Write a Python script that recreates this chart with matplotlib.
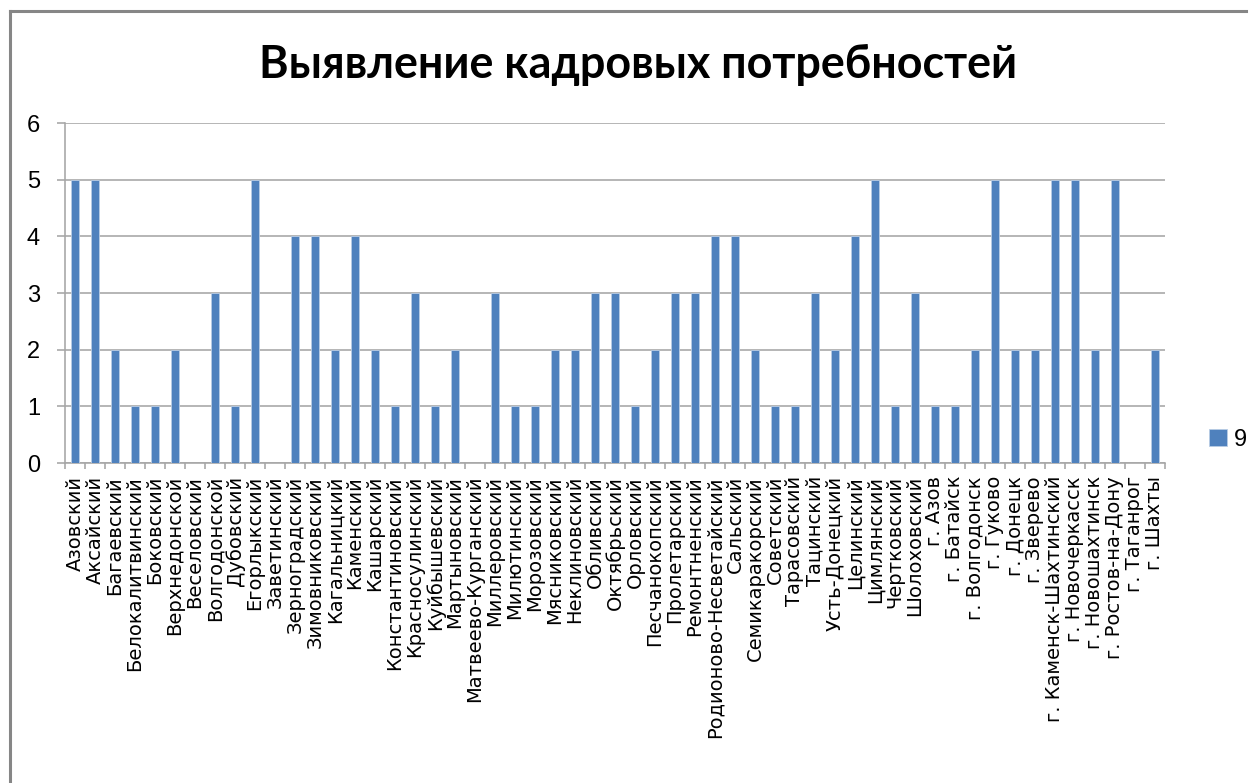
import matplotlib
matplotlib.use("Agg")
import matplotlib.pyplot as plt
from matplotlib.lines import Line2D
from matplotlib.ticker import FixedLocator, MultipleLocator
import numpy as np

categories = [
    "Азовский", "Аксайский", "Багаевский", "Белокалитвинский", "Боковский",
    "Верхнедонской", "Веселовский", "Волгодонской", "Дубовский", "Егорлыкский",
    "Заветинский", "Зерноградский", "Зимовниковский", "Кагальницкий", "Каменский",
    "Кашарский", "Константиновский", "Красносулинский", "Куйбышевский", "Мартыновский",
    "Матвеево-Курганский", "Миллеровский", "Милютинский", "Морозовский", "Мясниковский",
    "Неклиновский", "Обливский", "Октябрьский", "Орловский", "Песчанокопский",
    "Пролетарский", "Ремонтненский", "Родионово-Несветайский", "Сальский", "Семикаракорский",
    "Советский", "Тарасовский", "Тацинский", "Усть-Донецкий", "Целинский",
    "Цимлянский", "Чертковский", "Шолоховский", "г. Азов", "г. Батайск",
    "г. Волгодонск", "г. Гуково", "г. Донецк", "г. Зверево", "г. Каменск-Шахтинский",
    "г. Новочеркасск", "г. Новошахтинск", "г. Ростов-на-Дону", "г. Таганрог", "г. Шахты",
]
values = [
    5, 5, 2, 1, 1,
    2, 0, 3, 1, 5,
    0, 4, 4, 2, 4,
    2, 1, 3, 1, 2,
    0, 3, 1, 1, 2,
    2, 3, 3, 1, 2,
    3, 3, 4, 4, 2,
    1, 1, 3, 2, 4,
    5, 1, 3, 1, 1,
    2, 5, 2, 2, 5,
    5, 2, 5, 0, 2,
]
series_name = "9"
title = "Выявление кадровых потребностей"

BAR = "#4f81bd"
GRID = "#a6a6a6"
W, H = 1258, 783
PX = 72 / 100  # points per pixel at 100 dpi

fig = plt.figure(figsize=(W / 100, H / 100), dpi=100)
fig.patch.set_facecolor("white")

# chart frame
fig.add_artist(Line2D([9.5 / W, 9.5 / W], [0, 1 - 11 / H], transform=fig.transFigure,
                      color="#868686", lw=2.2))
fig.add_artist(Line2D([9.5 / W, 1246 / W], [1 - 11 / H, 1 - 11 / H], transform=fig.transFigure,
                      color="#868686", lw=2.2))

left, right, top, bottom = 65, 1165, 123, 463
ax = fig.add_axes([left / W, 1 - bottom / H, (right - left) / W, (bottom - top) / H])

x = np.arange(len(categories))
bars = ax.bar(x, values, width=0.38, color=BAR, edgecolor="#b9cde5", linewidth=0.6,
              label=series_name, zorder=3)

ax.set_xlim(-0.5, len(categories) - 0.5)
ax.set_ylim(0, 6)
ax.yaxis.set_major_locator(MultipleLocator(1))
ax.grid(axis="y", color=GRID, lw=1.6 * PX, zorder=0)

for s in ("top", "right"):
    ax.spines[s].set_visible(False)
for s in ("left", "bottom"):
    ax.spines[s].set_color(GRID)
    ax.spines[s].set_linewidth(1.6 * PX)

ax.set_xticks(x)
ax.set_xticklabels(categories, rotation=90, fontfamily="DejaVu Sans", fontsize=14.0)
ax.tick_params(axis="x", which="major", length=0, pad=13 * PX)
ax.xaxis.set_minor_locator(FixedLocator(np.arange(-0.5, len(categories), 1.0)))
ax.tick_params(axis="x", which="minor", length=6 * PX, color=GRID, width=1.6 * PX)
ax.tick_params(axis="y", length=8 * PX, color=GRID, width=1.6 * PX, pad=17 * PX,
               labelsize=17)
for lbl in ax.get_yticklabels():
    lbl.set_fontfamily("Liberation Sans")

fig.text(638 / W, 1 - 65 / H, title, ha="center", va="center",
         fontfamily="Lato", fontweight="bold", fontsize=32.3)

leg = fig.legend(handles=[bars], labels=[series_name], loc="center left",
                 bbox_to_anchor=(1188 / W, 1 - 440 / H), frameon=False,
                 prop={"family": "Liberation Sans", "size": 17},
                 handlelength=0.75, handleheight=0.75, handletextpad=0.3)

fig.savefig("out.png", dpi=100, facecolor="white")
